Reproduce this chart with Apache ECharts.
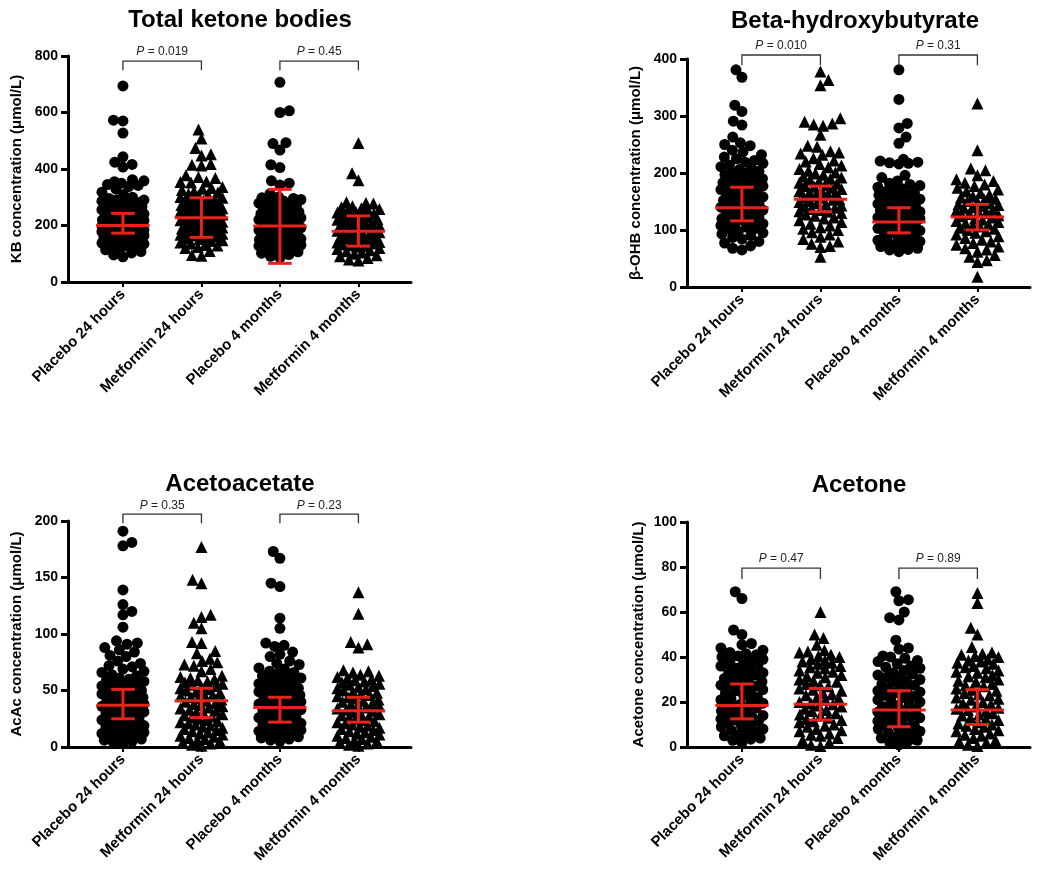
<!DOCTYPE html>
<html><head><meta charset="utf-8">
<script src="https://cdn.jsdelivr.net/npm/echarts@6/dist/echarts.min.js"></script>
<style>html,body{margin:0;padding:0;background:#fff}#c{width:1037px;height:880px}</style>
</head><body><div id="c"></div>
<script>
// ---------- DATA ----------
const categories = ['Placebo 24 hours', 'Metformin 24 hours', 'Placebo 4 months', 'Metformin 4 months'];

// Total ketone bodies (µmol/L)
const tkbPlacebo24h = [694,573,570,527,443,424,416,407,362,358,355,350,345,342,338,330,318,310,300,296,291,290,286,282,281,277,274,272,268,266,261,259,256,251,249,247,243,241,239,236,232,231,228,225,224,220,218,215,212,211,207,205,203,201,199,198,194,191,190,187,184,183,180,178,175,173,172,168,165,164,161,158,156,153,151,148,145,142,138,135,131,127,123,118,114,108,103,96,89];
const tkbMetformin24h = [540,508,474,452,448,418,415,412,378,372,368,356,354,352,336,333,330,326,320,317,312,309,306,301,298,295,291,288,286,282,279,277,273,268,267,264,261,258,256,252,250,248,244,243,239,237,235,231,229,226,223,222,219,216,213,210,208,205,202,200,197,195,193,189,187,184,182,178,176,173,171,167,165,161,159,155,152,148,145,140,136,131,129,124,120,110,96,93];
const tkbPlacebo4m = [707,606,600,493,490,467,415,405,358,350,343,312,301,298,296,292,287,285,283,279,275,272,269,265,262,259,254,251,248,246,242,239,236,234,230,227,225,221,218,216,212,209,206,203,200,198,196,192,189,186,184,180,177,175,171,168,166,162,159,156,153,150,147,145,141,138,134,131,128,124,120,116,112,107,102,97,91,86];
const tkbMetformin4m = [492,385,360,282,280,278,268,265,261,258,256,252,248,246,242,238,235,232,229,227,223,220,218,214,211,209,205,202,200,196,194,190,187,185,181,178,176,172,169,167,163,160,158,154,151,149,145,142,140,136,133,130,127,125,120,117,112,109,104,100,95,91,85,80,76];
const tkbStats = [[173,200,243],[158,227,298],[66,198,328],[127,180,234]]; // [Q1, median, Q3]
const tkbP = ['0.019', '0.45'];
const tkbTicks = [0,200,400,600,800];

// Beta-hydroxybutyrate (µmol/L)
const bhbPlacebo24h = [381,368,319,308,291,284,263,253,250,248,240,237,232,228,225,222,219,217,214,211,208,206,203,201,199,197,194,193,190,188,186,183,182,180,177,176,174,172,171,168,166,164,162,161,158,156,154,152,151,148,146,144,142,140,138,136,135,132,130,128,127,124,122,120,118,116,114,112,111,108,105,103,101,98,95,93,90,87,84,80,77,72,68,65];
const bhbMetformin24h = [378,363,354,296,290,287,285,283,267,248,246,238,236,234,232,226,222,220,216,213,210,207,204,201,199,197,194,192,190,188,185,183,181,179,177,176,174,172,170,168,166,164,162,160,158,156,154,153,151,149,147,145,143,141,139,137,135,133,132,130,127,125,122,120,117,114,111,108,105,102,100,96,92,88,84,80,76,72,70,53];
const bhbPlacebo4m = [381,329,287,279,263,252,224,221,219,218,217,216,196,192,186,182,180,178,175,173,170,168,166,163,161,158,156,154,152,150,148,146,144,142,140,138,136,134,132,130,128,126,124,122,120,118,116,114,113,111,109,107,105,103,101,99,97,95,93,90,88,85,82,80,79,77,74,73,71,68,66,65,62];
const bhbMetformin4m = [322,240,208,205,196,189,186,183,180,177,174,171,168,165,162,159,157,155,153,151,149,147,145,144,142,140,138,136,134,132,130,128,126,124,122,120,118,116,114,112,110,108,106,104,102,100,98,95,92,89,86,83,80,77,74,71,68,66,62,56,53,47,44,18];
const bhbStats = [[116,139,175],[132,154,177],[95,114,139],[100,123,145]];
const bhbP = ['0.010', '0.31'];
const bhbTicks = [0,100,200,300,400];

// Acetoacetate (µmol/L)
const acacPlacebo24h = [191,181,178,139,126,120,117,106,94,92,91,88,86,84,81,80,76,74,72,71,69,67,66,64,63,61,60,59,58,57,56,55,54,53,52,51,50,49,48,47,46,45,44,43,42,41,40,39,38,37,36,35,34,33,32,31,30,29,28,27,26,25,24,23,22,21,20,19,18,17,16,15,14,13,12,11,10,9,8,7,6,5,4,3];
const acacMetformin24h = [177,148,145,117,115,110,105,93,92,85,83,78,76,75,73,72,69,67,63,62,61,60,59,58,57,56,55,54,53,52,51,50,49,48,47,46,45,44,43,42,41,40,39,38,37,36,35,34,33,32,31,30,29,28,27,26,25,24,23,22,21,20,19,18,17,16,15,14,13,12,11,10,9,8,7,6,5,4,3,2,1];
const acacPlacebo4m = [173,167,145,142,114,105,92,90,89,84,82,80,76,74,73,70,69,67,66,65,63,62,61,60,58,57,56,55,54,53,52,51,50,49,48,47,46,45,44,43,42,41,40,39,38,37,36,35,34,33,32,31,30,29,28,27,26,25,24,23,22,21,20,19,18,17,16,15,14,13,12,11,10,9,8,7,6,5];
const acacMetformin4m = [137,118,93,91,88,68,67,66,64,63,62,61,60,59,58,57,56,55,54,53,52,51,50,49,48,47,46,45,44,43,42,41,40,39,38,37,36,35,34,33,32,31,30,29,28,27,26,25,24,23,22,21,20,19,18,17,16,15,14,13,12,11,10,9,8,7,6,5,4,3,2,1];
const acacStats = [[25,37,51],[26,41,52],[22,35,44],[22,32,44]];
const acacP = ['0.35', '0.23'];
const acacTicks = [0,50,100,150,200];

// Acetone (µmol/L)
const actPlacebo24h = [69,66,52,50,46,45.5,44,43,42,41.5,41,40.5,40,39,38.5,38,37,36.5,36,35,34.5,34,33,32.5,32,31,30.5,30,29,28.5,28,27.5,27,26,25.5,25,24,23.5,23,22,21.5,21,20,19.5,19,18.5,18,17.5,17,16,15.5,15,14,13.5,13,12.5,12,11.5,11,10,9.5,9,8,7.5,7,6,5.5,5,4,3.5,3,2];
const actMetformin24h = [60,50,48.5,45.5,43,42.5,42,41,40.5,40,39,38.5,38,37.5,37,36,35.5,35,34,33.5,33,32,31.5,31,30,29.5,29,28,27.5,27,26,25.5,25,24,23.5,23,22,21.5,21,20,19.5,19,18.5,18,17,16.5,16,15,14.5,14,13,12.5,12,11.5,11,10,9.5,9,8,7.5,7,6,5.5,5,4,3,2,1,0.5];
const actPlacebo4m = [69,65.5,65,60,57.5,56.5,47.5,44,43.5,40.5,40,39.5,38.5,38,37,36,35.5,35,34,33,32.5,32,31,30.5,30,29.5,29,28,27.5,27,26,25.5,25,24.5,24,23,22.5,22,21,20.5,20,19,18.5,18,17,16.5,16,15.5,15,14,13.5,13,12,11.5,11,10,9.5,9,8.5,8,7,6.5,6,5,4.5,4,3,2.5,2,1];
const actMetformin4m = [68.5,64,53,50,44.5,42,41.5,41,40.5,40,39,38.5,38,37.5,37,36,35.5,35,34,33.5,33,32,31.5,31,30,29.5,29,28,27.5,27,26,25.5,25,24,23.5,23,22,21.5,21,20,19.5,19,18,17.5,17,16.5,16,15,14.5,14,13,12.5,12,11,10.5,10,9.5,9,8,7.5,7,6,5.5,5,4,3,2.5,2,1,0.5];
const actStats = [[12.5,18.5,28],[12,19,26],[9,16.5,25],[10,16.5,25.5]];
const actP = ['0.47', '0.89'];
const actTicks = [0,20,40,60,80,100];

// ---------- PANELS ----------
const panels = [
  {title:'Total ketone bodies', yName:'KB concentration (\u03bcmol/L)', ticks:tkbTicks,
   groups:[tkbPlacebo24h,tkbMetformin24h,tkbPlacebo4m,tkbMetformin4m], stats:tkbStats, p:tkbP},
  {title:'Beta-hydroxybutyrate', yName:'\u03b2-OHB concentration (\u03bcmol/L)', ticks:bhbTicks,
   groups:[bhbPlacebo24h,bhbMetformin24h,bhbPlacebo4m,bhbMetformin4m], stats:bhbStats, p:bhbP},
  {title:'Acetoacetate', yName:'AcAc concentration (\u03bcmol/L)', ticks:acacTicks,
   groups:[acacPlacebo24h,acacMetformin24h,acacPlacebo4m,acacMetformin4m], stats:acacStats, p:acacP},
  {title:'Acetone', yName:'Acetone concentration (\u03bcmol/L)', ticks:actTicks,
   groups:[actPlacebo24h,actMetformin24h,actPlacebo4m,actMetformin4m], stats:actStats, p:actP}
];
// layout (pixels / axis positions)
const layout = [
  {left:68,  top:56,  height:226, titleX:240, titleTop:8,   bracket:[750,782],   nameGap:44},
  {left:687, top:59,  height:228, titleX:855, titleTop:9,   bracket:[389,407],   nameGap:44},
  {left:68,  top:521, height:226, titleX:240, titleTop:472, bracket:[198,206],   nameGap:44},
  {left:687, top:522, height:225, titleX:859, titleTop:473, bracket:[74.7,79.5], nameGap:41}
];
const GRID_W = 343, XMIN = -0.7, XMAX = 3.67;
const RED = '#e8221c';
const FONT = '"Liberation Sans", Arial, sans-serif';

// Deterministic beeswarm layout with a capped half-width (overlap allowed when full)
function swarm(values, xIndex, pxPerY, pxPerX) {
  const s = 9.5, maxHalf = 21;
  const vals = values.slice().sort((a, b) => a - b);
  const placed = [];
  const out = [];
  let flip = 1;
  vals.forEach(v => {
    const y = v * pxPerY;
    const near = placed.filter(p => Math.abs(p[1] - y) < s);
    const cands = [0];
    near.forEach(p => {
      const dx = Math.sqrt(s * s - (p[1] - y) * (p[1] - y));
      cands.push(p[0] + dx, p[0] - dx);
    });
    let best = null;
    cands.forEach(c => {
      if (Math.abs(c) > maxHalf + 1e-6) return;
      const ok = near.every(p => (p[0] - c) ** 2 + (p[1] - y) ** 2 >= s * s - 1e-6);
      if (!ok) return;
      if (best === null || Math.abs(c) < Math.abs(best) - 1e-6 ||
          (Math.abs(Math.abs(c) - Math.abs(best)) < 1e-6 && Math.sign(c) === flip)) best = c;
    });
    if (best === null) {
      let bestScore = -1;
      for (let c = -maxHalf; c <= maxHalf + 1e-6; c += 0.5) {
        let md = Infinity;
        near.forEach(p => { md = Math.min(md, Math.hypot(p[0] - c, p[1] - y)); });
        if (md > bestScore + 1e-6 || (Math.abs(md - bestScore) < 1e-6 && Math.abs(c) < Math.abs(best))) {
          bestScore = md; best = c;
        }
      }
    }
    flip = -flip;
    placed.push([best, y]);
    out.push([xIndex + best / pxPerX, v]);
  });
  return out;
}

const option = {
  animation: false,
  backgroundColor: '#fff',
  title: [], grid: [], xAxis: [], yAxis: [], series: []
};

panels.forEach((pn, pi) => {
  const L = layout[pi];
  const ymax = pn.ticks[pn.ticks.length - 1];
  const interval = pn.ticks[1] - pn.ticks[0];
  const pxPerY = L.height / ymax;
  const pxPerX = GRID_W / (XMAX - XMIN);
  option.title.push({
    text: pn.title, left: L.titleX, top: L.titleTop, textAlign: 'center', padding: 0,
    textStyle: {fontFamily: FONT, fontWeight: 'bold', fontSize: 24, color: '#000'}
  });
  option.grid.push({left: L.left, top: L.top, width: GRID_W, height: L.height, containLabel: false});
  option.xAxis.push({
    type: 'value', gridIndex: pi, min: XMIN, max: XMAX,
    splitLine: {show: false},
    axisLine: {show: true, onZero: false, lineStyle: {color: '#000', width: 3}},
    axisTick: {show: true, customValues: [0,1,2,3], length: 5, lineStyle: {color: '#000', width: 2}},
    axisLabel: {show: true, customValues: [0,1,2,3], rotate: 45, margin: 10,
      formatter: v => categories[Math.round(v)],
      fontFamily: FONT, fontWeight: 'bold', fontSize: 15, color: '#000'}
  });
  option.yAxis.push({
    type: 'value', gridIndex: pi, min: 0, max: ymax, interval: interval,
    name: pn.yName, nameLocation: 'middle', nameGap: L.nameGap,
    nameTextStyle: {fontFamily: FONT, fontWeight: 'bold', fontSize: 15, color: '#000'},
    splitLine: {show: false},
    axisLine: {show: true, onZero: false, lineStyle: {color: '#000', width: 3}},
    axisTick: {show: true, length: 7, lineStyle: {color: '#000', width: 3}},
    axisLabel: {margin: 10, fontFamily: FONT, fontWeight: 'bold', fontSize: 14, color: '#000'}
  });
  const circles = [], triangles = [];
  pn.groups.forEach((vals, gi) => {
    const pts = swarm(vals, gi, pxPerY, pxPerX);
    (gi % 2 === 0 ? circles : triangles).push(...pts);
  });
  option.series.push({
    type: 'scatter', xAxisIndex: pi, yAxisIndex: pi, data: circles,
    symbol: 'circle', symbolSize: 11, itemStyle: {color: '#000', opacity: 1}, silent: true, z: 2
  });
  option.series.push({
    type: 'scatter', xAxisIndex: pi, yAxisIndex: pi, data: triangles,
    symbol: 'triangle', symbolSize: 12, itemStyle: {color: '#000', opacity: 1}, silent: true, z: 2
  });
  // median + IQR
  option.series.push({
    type: 'custom', xAxisIndex: pi, yAxisIndex: pi, z: 5, clip: false, silent: true,
    data: pn.stats.map((s, i) => [i, s[0], s[1], s[2]]),
    renderItem: (params, api) => {
      const x = api.value(0);
      const p1 = api.coord([x, api.value(1)]);
      const pm = api.coord([x, api.value(2)]);
      const p3 = api.coord([x, api.value(3)]);
      const half = api.size([0.34, 0])[0];
      const cap = api.size([0.15, 0])[0];
      const st = {stroke: RED, lineWidth: 3, fill: null};
      return {type: 'group', children: [
        {type: 'line', shape: {x1: pm[0] - half, y1: pm[1], x2: pm[0] + half, y2: pm[1]}, style: st},
        {type: 'line', shape: {x1: p1[0], y1: p1[1], x2: p3[0], y2: p3[1]}, style: st},
        {type: 'line', shape: {x1: p1[0] - cap, y1: p1[1], x2: p1[0] + cap, y2: p1[1]}, style: st},
        {type: 'line', shape: {x1: p3[0] - cap, y1: p3[1], x2: p3[0] + cap, y2: p3[1]}, style: st}
      ]};
    }
  });
  // P-value brackets
  const [lo, hi] = L.bracket;
  option.series.push({
    type: 'custom', xAxisIndex: pi, yAxisIndex: pi, z: 5, clip: false, silent: true,
    data: [[0, 1], [2, 3]],
    renderItem: (params, api) => {
      const a = api.coord([api.value(0), hi]);
      const b = api.coord([api.value(1), hi]);
      const al = api.coord([api.value(0), lo]);
      const pv = pn.p[params.dataIndex];
      return {type: 'group', children: [
        {type: 'polyline', shape: {points: [[a[0], al[1]], [a[0], a[1]], [b[0], a[1]], [b[0], al[1]]]},
         style: {stroke: '#333', lineWidth: 1.3, fill: null}},
        {type: 'text', style: {
          text: '{i|P} = ' + pv, x: (a[0] + b[0]) / 2, y: a[1] - 3,
          align: 'center', verticalAlign: 'bottom', textAlign: 'center', textVerticalAlign: 'bottom',
          fontFamily: FONT, fontSize: 12, fill: '#222',
          rich: {i: {fontFamily: FONT, fontSize: 12, fontStyle: 'italic', fill: '#222'}}
        }}
      ]};
    }
  });
});

const chart = echarts.init(document.getElementById('c'), null, {renderer: 'canvas'});
chart.setOption(option);
</script>
</body></html>
